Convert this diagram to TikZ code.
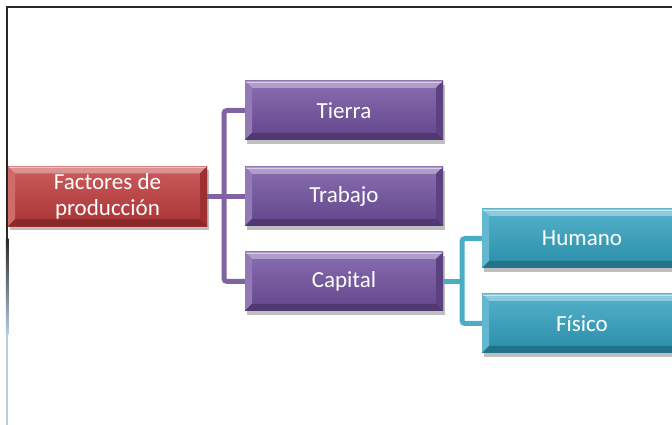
\documentclass[tikz,border=0pt]{standalone}
\usepackage{fontspec}
\setmainfont{Carlito}
\usetikzlibrary{calc,shadows}
\definecolor{redbox}{HTML}{C0393A}
\definecolor{purbox}{HTML}{6F4E9E}
\definecolor{tealbox}{HTML}{2FA0BF}
\definecolor{purline}{HTML}{8064A2}
\definecolor{tealline}{HTML}{4BACC6}
\definecolor{framec}{HTML}{2A2A22}
\definecolor{fadec}{HTML}{B8CCE8}
\tikzset{
  bevbox/.style={rectangle, inner sep=0pt, minimum height=59pt, minimum width=198pt,
    text=white, align=center, font=\fontsize{23}{26}\selectfont,
    top color=#1!82!white, bottom color=#1!88!black,
    drop shadow={shadow xshift=1.5pt, shadow yshift=-4pt, opacity=0.25, fill=black},
    path picture={
      \path (path picture bounding box.north west) coordinate (pnw)
            (path picture bounding box.north east) coordinate (pne)
            (path picture bounding box.south west) coordinate (psw)
            (path picture bounding box.south east) coordinate (pse);
      \fill[#1!55!white] (pnw) -- (pne) -- ($(pne)+(-7pt,-7pt)$) -- ($(pnw)+(7pt,-7pt)$) -- cycle;
      \fill[#1!75!white] (pnw) -- ($(pnw)+(7pt,-7pt)$) -- ($(psw)+(7pt,7pt)$) -- (psw) -- cycle;
      \fill[#1!82!black] (pne) -- ($(pne)+(-7pt,-7pt)$) -- ($(pse)+(-7pt,7pt)$) -- (pse) -- cycle;
      \fill[#1!72!black] (psw) -- ($(psw)+(7pt,7pt)$) -- ($(pse)+(-7pt,7pt)$) -- (pse) -- cycle;
      \draw[white, opacity=0.5, line width=0.8pt] ($(pnw)+(1pt,-1pt)$) -- ($(pne)+(-1pt,-1pt)$);
    }},
  purconn/.style={draw=purline, line width=5pt, rounded corners=3pt},
  tealconn/.style={draw=tealline, line width=5pt, rounded corners=3pt}
}
\begin{document}
\begin{tikzpicture}[x=1pt,y=1pt]
\useasboundingbox (0,0) rectangle (672,425);
\clip (0,0) rectangle (672,425);
\coordinate (j1) at (224,228.5);
\coordinate (j2) at (462,143.5);
% nodes
\node[bevbox=redbox, minimum width=199pt, minimum height=60pt] (fact) at (107.5,228.5) {Factores de\\producción};
\node[bevbox=purbox] (tierra) at (344,314.5) {Tierra};
\node[bevbox=purbox] (trabajo) at (344,228.5) {Trabajo};
\node[bevbox=purbox] (capital) at (344,143.5) {Capital};
\node[bevbox=tealbox, minimum width=200pt] (humano) at (582,186.5) {Humano};
\node[bevbox=tealbox, minimum width=200pt] (fisico) at (582,101.5) {Físico};
% connectors
\draw[purconn] (fact.east) -- (trabajo.west);
\draw[purconn] (tierra.west) -| (j1) |- (capital.west);
\draw[tealconn] (capital.east) -- (j2);
\draw[tealconn] (humano.west) -| (j2) |- (fisico.west);
% frame
\draw[framec, line width=2.5pt] (5.75,418) -- (673,418);
\fill[framec] (5.75,419.25) rectangle (8.25,185);
\shade[top color=framec, bottom color=fadec] (5.75,186) rectangle (8.25,90);
\fill[fadec] (5.75,91) rectangle (8.25,0);
\end{tikzpicture}
\end{document}
